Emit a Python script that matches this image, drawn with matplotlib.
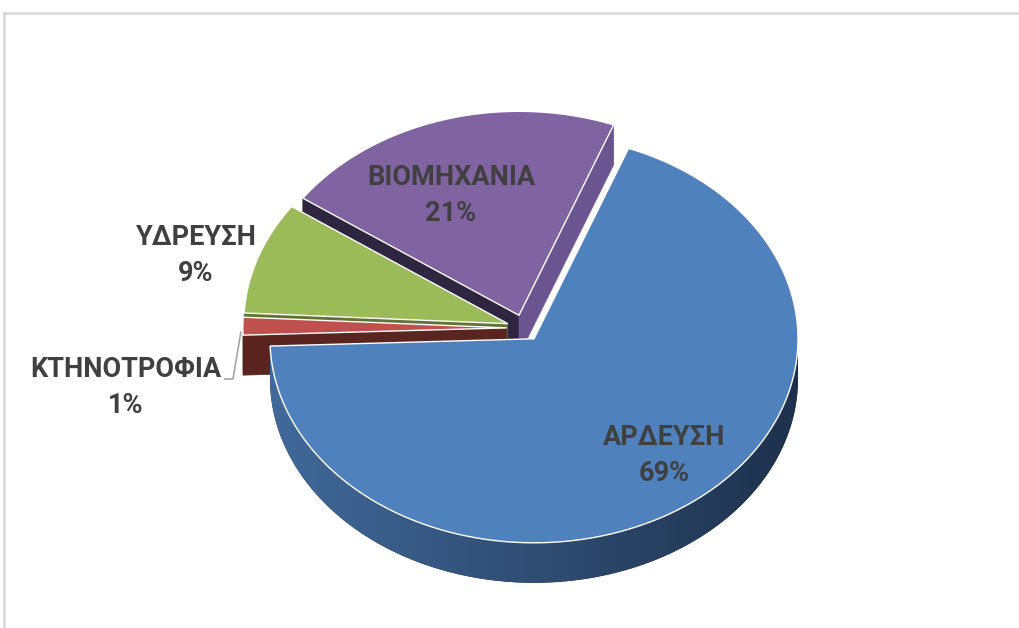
import numpy as np
import matplotlib.pyplot as plt
from matplotlib.patches import Polygon
from matplotlib.colors import to_rgb

# data (clockwise from the first slice)
categories = ['ΑΡΔΕΥΣΗ', 'ΚΤΗΝΟΤΡΟΦΙΑ', 'ΥΔΡΕΥΣΗ', 'ΒΙΟΜΗΧΑΝΙΑ']
values = [68.6, 1.4, 8.9, 21.1]

# colours: top face, start cut face, end cut face, outer wall (left, right)
top_colors = ['#4F81BD', '#C0504D', '#9BBB59', '#8064A2']
start_face = ['#2B4870', '#5A2420', '#5E7536', '#2E2540']
end_face = ['#2B4870', '#7A302E', '#5E7536', '#6A5590']
wall_left = ['#41699A', '#5C2320', '#6E8A40', '#5A4780']
wall_right = ['#1E314C', '#4A1C1A', '#55692F', '#3E3058']

# geometry of the projected pie (pixel units)
CX, CY = 524, 328
RX, RY = 264, 204
DEPTH = 40
EXPLODE = 0.065
START = 21.0

label_pos = [(664, 438), (126, 370), (196, 238), (451, 178)]

fig = plt.figure(figsize=(10.19, 6.28), dpi=100)
ax = fig.add_axes([0, 0, 1, 1])
ax.axis('off')

def pt(t, r, off, z=0):
	a = np.radians(t)
	return (CX + off[0] + r * RX * np.sin(a), CY + off[1] - r * RY * np.cos(a) + z)

fracs = np.array(values) / sum(values) * 360
ends = START + np.cumsum(fracs)
starts = ends - fracs
mids = (starts + ends) / 2

# back to front
order = np.argsort(-np.cos(np.radians(mids)))
z = 1

for i in order:
	a0, a1, m = starts[i], ends[i], mids[i]
	off = (EXPLODE * RX * np.sin(np.radians(m)), -EXPLODE * RY * np.cos(np.radians(m)))
	tip = pt(0, 0, off)
	tipd = pt(0, 0, off, DEPTH)

	# cut faces
	if np.sin(np.radians(a0)) < 0:
		ax.add_patch(Polygon([tip, pt(a0, 1, off), pt(a0, 1, off, DEPTH), tipd],
			closed=True, facecolor=start_face[i], edgecolor=start_face[i], lw=0.5, zorder=z))
		z += 1
	if np.sin(np.radians(a1)) > 0:
		ax.add_patch(Polygon([tip, pt(a1, 1, off), pt(a1, 1, off, DEPTH), tipd],
			closed=True, facecolor=end_face[i], edgecolor=end_face[i], lw=0.5, zorder=z))
		z += 1

	# outer wall, front half only, shaded left to right
	for k in (0, 360):
		w0 = max(a0, 90 + k)
		w1 = min(a1, 270 + k)
		if w1 <= w0:
			continue
		ts = np.linspace(w0, w1, int((w1 - w0) * 2) + 2)
		wall = [pt(t, 1, off) for t in ts] + [pt(t, 1, off, DEPTH) for t in ts[::-1]]
		clip = Polygon(wall, closed=True, facecolor=wall_right[i], edgecolor='none', zorder=z)
		ax.add_patch(clip)
		z += 1
		grad = np.linspace(0, 1, 256)[None, :, None]
		c1 = np.array(to_rgb(wall_left[i]))
		c2 = np.array(to_rgb(wall_right[i]))
		img = c1 + (c2 - c1) * grad
		x0 = CX + off[0] - RX
		x1 = CX + off[0] + RX
		im = ax.imshow(img, extent=(x0, x1, CY + RY + 80, CY - RY - 80), aspect='auto',
			interpolation='bilinear', zorder=z)
		im.set_clip_path(clip)
		z += 1

	# top face
	ts = np.linspace(a0, a1, max(int(a1 - a0) * 2, 4))
	poly = [tip] + [pt(t, 1, off) for t in ts]
	ax.add_patch(Polygon(poly, closed=True, facecolor=top_colors[i], edgecolor='white', lw=1.0, zorder=z))
	z += 1

# labels
for i in range(len(categories)):
	x, y = label_pos[i]
	txt = categories[i] + '\n' + '{:.0f}%'.format(values[i])
	ax.text(x, y + 17.5, txt, ha='center', va='center', color='#404040',
		fontsize=19.5, fontweight='bold', family='Roboto', linespacing=1.42, zorder=z)

# leader line for the small slice
m = mids[1]
off = (EXPLODE * RX * np.sin(np.radians(m)), -EXPLODE * RY * np.cos(np.radians(m)))
rim = pt(m, 1, off)
ax.plot([225, 233, rim[0] - 2], [379, 379, rim[1] + 6], color='#A6A6A6', lw=1.2, zorder=z)

# chart area border
ax.plot([4, 4], [628, 13], color='#D9D9D9', lw=2, zorder=z)
ax.plot([4, 1019], [13, 13], color='#D9D9D9', lw=2, zorder=z)

ax.set_xlim(0, 1019)
ax.set_ylim(628, 0)

plt.savefig('out.png', dpi=100)
